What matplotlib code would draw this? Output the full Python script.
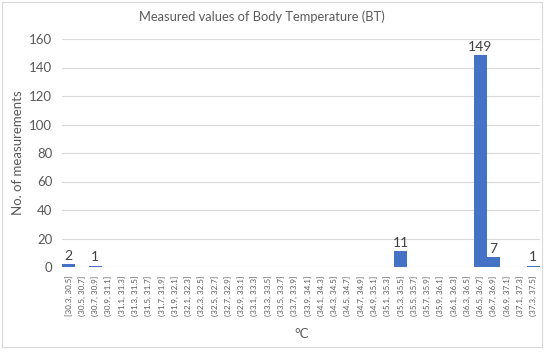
import matplotlib.pyplot as plt
from matplotlib.patches import Rectangle

plt.rcParams.update({'font.family': ['Lato', 'DejaVu Sans']})

edges = [round(30.3 + 0.2 * i, 1) for i in range(37)]
bins = ['[30.3, 30.5]'] + ['(%.1f, %.1f]' % (edges[i], edges[i + 1]) for i in range(1, 36)]
counts = [0] * 36
counts[0] = 2
counts[2] = 1
counts[25] = 11
counts[31] = 149
counts[32] = 7
counts[35] = 1

grey = '#595959'
fig = plt.figure(figsize=(5.5, 3.52), dpi=100)
ax = fig.add_axes([62 / 550, 1 - 267 / 352, 478 / 550, 228 / 352])

x = list(range(len(bins)))
ax.bar(x, counts, width=0.97, color='#4472C4', zorder=3)
for xi, c in zip(x, counts):
    if c > 0:
        ax.text(xi, c + 1.5, str(c), ha='center', va='bottom', fontsize=10, color='#404040')

ax.set_xlim(-0.5, 35.5)
ax.set_ylim(0, 160)
ax.set_yticks(range(0, 161, 20))
ax.set_xticks(x)
ax.set_xticklabels(bins, rotation=90, fontsize=5.8, color=grey)
ax.tick_params(axis='y', labelsize=9.5, colors=grey, length=0, pad=7)
ax.tick_params(axis='x', length=0, pad=6)
ax.grid(axis='y', color='#D9D9D9', linewidth=0.8, zorder=0)
for s in ax.spines.values():
    s.set_visible(False)

ax.set_ylabel('No. of measurements', fontsize=9.5, color=grey, labelpad=4)
fig.text(302 / 550, 1 - 334 / 352, '°C', ha='center', va='center', fontsize=9.5, color=grey)
fig.text(262 / 550, 1 - 17 / 352, 'Measured values of Body Temperature (BT)', ha='center',
         va='center', fontsize=9.3, color=grey)

fig.patches.append(Rectangle((2 / 550, 1 - 347 / 352), 540 / 550, 345 / 352,
                             transform=fig.transFigure, fill=False, edgecolor='#D9D9D9', linewidth=0.8))

fig.savefig('out.png', dpi=100)
